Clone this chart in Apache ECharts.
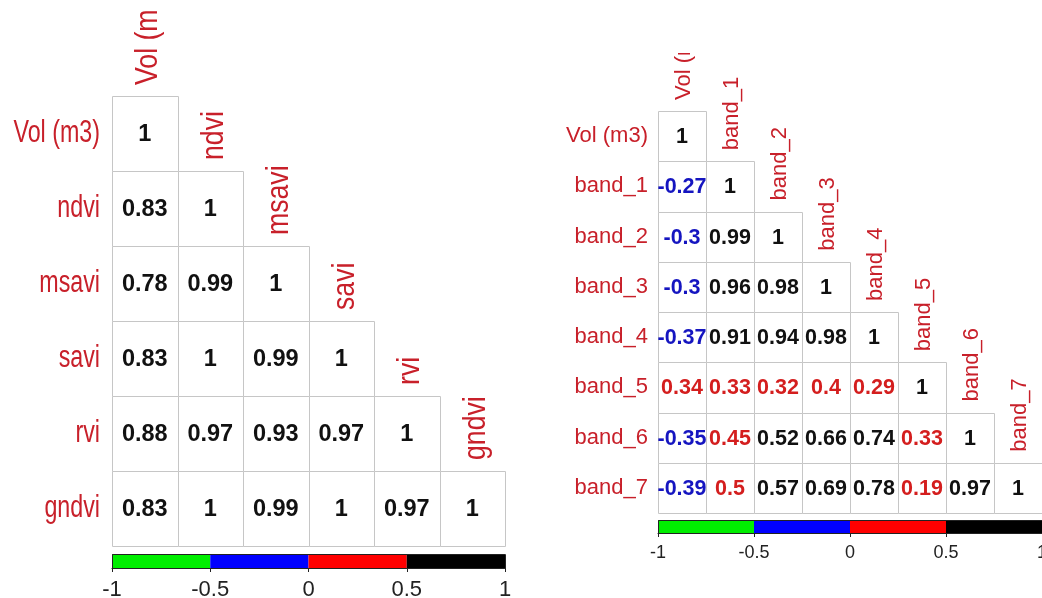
<!DOCTYPE html>
<html>
<head>
<meta charset="utf-8">
<script src="https://cdn.jsdelivr.net/npm/echarts@6/dist/echarts.min.js"></script>
<style>
html,body{margin:0;padding:0;background:#fff;}
#chart{width:1042px;height:598px;}
</style>
</head>
<body>
<div id="chart"></div>
<script>
// ---------- data ----------
const leftLabels = ['Vol (m3)', 'ndvi', 'msavi', 'savi', 'rvi', 'gndvi'];
const leftVol   = [1];
const leftNdvi  = [0.83, 1];
const leftMsavi = [0.78, 0.99, 1];
const leftSavi  = [0.83, 1, 0.99, 1];
const leftRvi   = [0.88, 0.97, 0.93, 0.97, 1];
const leftGndvi = [0.83, 1, 0.99, 1, 0.97, 1];
const leftValues = [leftVol, leftNdvi, leftMsavi, leftSavi, leftRvi, leftGndvi];

const rightLabels = ['Vol (m3)', 'band_1', 'band_2', 'band_3', 'band_4', 'band_5', 'band_6', 'band_7'];
const rightVol = [1];
const band1 = [-0.27, 1];
const band2 = [-0.3, 0.99, 1];
const band3 = [-0.3, 0.96, 0.98, 1];
const band4 = [-0.37, 0.91, 0.94, 0.98, 1];
const band5 = [0.34, 0.33, 0.32, 0.4, 0.29, 1];
const band6 = [-0.35, 0.45, 0.52, 0.66, 0.74, 0.33, 1];
const band7 = [-0.39, 0.5, 0.57, 0.69, 0.78, 0.19, 0.97, 1];
const rightValues = [rightVol, band1, band2, band3, band4, band5, band6, band7];

const barBreaks = [-1, -0.5, 0, 0.5, 1];
const barColors = ['#00ee00', '#0000ff', '#ff0000', '#000000'];

// ---------- styles ----------
const FONT = 'Liberation Sans, Arial, sans-serif';
const LABEL_RED = '#c8202a';
const VAL_BLUE = '#1515c0';
const VAL_RED = '#d41e1e';
const VAL_BLACK = '#111111';
const CELL_BORDER = '#c6c6c6';

function valueColor(v) {
  if (v <= -0.5) return '#00aa00';
  if (v <= 0) return VAL_BLUE;
  if (v <= 0.5) return VAL_RED;
  return VAL_BLACK;
}

function cellData(values) {
  const out = [];
  values.forEach((row, r) => row.forEach((v, c) => out.push([c, r, v])));
  return out;
}

function cellSeries(xi, values, fontSize) {
  return {
    type: 'custom', xAxisIndex: xi, yAxisIndex: xi, clip: false,
    encode: {x: 0, y: 1},
    data: cellData(values),
    renderItem: function (params, api) {
      const c = api.value(0), r = api.value(1), v = api.value(2);
      const a = api.coord([c, r]), b = api.coord([c + 1, r + 1]);
      const x0 = Math.round(a[0]) + 0.5, y0 = Math.round(a[1]) + 0.5;
      const x1 = Math.round(b[0]) + 0.5, y1 = Math.round(b[1]) + 0.5;
      return {
        type: 'group',
        children: [
          {type: 'rect', shape: {x: x0, y: y0, width: x1 - x0, height: y1 - y0},
           style: {fill: '#fff', stroke: CELL_BORDER, lineWidth: 1}},
          {type: 'text', x: (a[0] + b[0]) / 2, y: (a[1] + b[1]) / 2 + 1,
           style: {text: String(v), fill: valueColor(v), fontSize: fontSize, fontWeight: 'bold',
                   fontFamily: FONT, align: 'center', verticalAlign: 'middle'}}
        ]
      };
    }
  };
}

function rowLabelSeries(xi, labels, fontSize, scaleX, gap) {
  return {
    type: 'custom', xAxisIndex: xi, yAxisIndex: xi, clip: false,
    encode: {x: 0, y: 1},
    data: labels.map((n, i) => [0, i + 0.5]),
    renderItem: function (params, api) {
      const p = api.coord([api.value(0), api.value(1)]);
      return {
        type: 'text', x: p[0] - gap, y: p[1], scaleX: scaleX, scaleY: 1,
        style: {text: labels[params.dataIndex], fill: LABEL_RED, fontSize: fontSize,
                fontFamily: FONT, align: 'right', verticalAlign: 'middle'}
      };
    }
  };
}

function colLabelSeries(xi, labels, fontSize, scaleAlong, gap, dx) {
  return {
    type: 'custom', xAxisIndex: xi, yAxisIndex: xi, clip: true,
    encode: {x: 0, y: 1},
    data: labels.map((n, i) => [i + 0.5, i]),
    renderItem: function (params, api) {
      const p = api.coord([api.value(0), api.value(1)]);
      return {
        type: 'text', x: p[0] + dx, y: p[1] - gap, rotation: Math.PI / 2,
        scaleX: scaleAlong, scaleY: 1,
        style: {text: labels[params.dataIndex], fill: LABEL_RED, fontSize: fontSize,
                fontFamily: FONT, align: 'left', verticalAlign: 'middle'}
      };
    }
  };
}

function colorBarSeries(xi) {
  const segs = barColors.map((col, i) => [barBreaks[i], barBreaks[i + 1], i]);
  return [{
    type: 'custom', xAxisIndex: xi, yAxisIndex: xi, clip: false,
    encode: {x: [0, 1]},
    data: segs,
    renderItem: function (params, api) {
      const a = api.coord([api.value(0), 1]), b = api.coord([api.value(1), 0]);
      return {type: 'rect', shape: {x: a[0], y: a[1], width: b[0] - a[0], height: b[1] - a[1]},
              style: {fill: barColors[api.value(2)]}};
    }
  }, {
    type: 'custom', xAxisIndex: xi, yAxisIndex: xi, clip: false, z: 5,
    encode: {x: [0, 1]},
    data: [[barBreaks[0], barBreaks[barBreaks.length - 1]]],
    renderItem: function (params, api) {
      const a = api.coord([api.value(0), 1]), b = api.coord([api.value(1), 0]);
      return {type: 'rect', shape: {x: Math.round(a[0]) + 0.5, y: Math.round(a[1]) + 0.5,
              width: Math.round(b[0] - a[0]), height: Math.round(b[1] - a[1])},
              style: {fill: 'none', stroke: '#222', lineWidth: 1}};
    }
  }];
}

// ---------- layout ----------
const L = {left: 112, width: 393, cellH: 75, firstTop: 96, clipTop: 10};
const R = {left: 658, width: 384, cellH: 50.25, firstTop: 111, clipTop: 53};
const nL = leftLabels.length, nR = rightLabels.length;

const grids = [
  {left: L.left, width: L.width, top: L.clipTop, height: L.firstTop - L.clipTop + nL * L.cellH},
  {left: L.left, width: L.width, top: 554, height: 14},
  {left: R.left, width: R.width, top: R.clipTop, height: R.firstTop - R.clipTop + nR * R.cellH},
  {left: R.left, width: R.width, top: 520, height: 13}
];
grids.forEach(g => { g.containLabel = false; g.show = false; g.outerBoundsMode = 'none'; });

function hiddenValAxis(min, max, inverse) {
  return {type: 'value', min: min, max: max, inverse: !!inverse, show: false,
          splitLine: {show: false}};
}
function barXAxis(gi, fs, margin) {
  return {type: 'value', gridIndex: gi, min: -1, max: 1, interval: 0.5, position: 'bottom',
          axisLine: {show: true, onZero: false, lineStyle: {color: '#222', width: 1}},
          axisTick: {show: true, length: 4, inside: false, lineStyle: {color: '#222'}},
          splitLine: {show: false},
          axisLabel: {show: true, fontSize: fs, fontFamily: FONT, color: '#222', margin: margin,
                      showMinLabel: true, showMaxLabel: true, hideOverlap: false,
                      formatter: v => String(v)}};
}

const xAxes = [
  Object.assign(hiddenValAxis(0, nL), {gridIndex: 0}),
  barXAxis(1, 22, 11),
  Object.assign(hiddenValAxis(0, nR), {gridIndex: 2}),
  barXAxis(3, 18, 11)
];
const yAxes = [
  Object.assign(hiddenValAxis(-(L.firstTop - L.clipTop) / L.cellH, nL, true), {gridIndex: 0}),
  Object.assign(hiddenValAxis(0, 1), {gridIndex: 1}),
  Object.assign(hiddenValAxis(-(R.firstTop - R.clipTop) / R.cellH, nR, true), {gridIndex: 2}),
  Object.assign(hiddenValAxis(0, 1), {gridIndex: 3})
];

const series = [].concat(
  [cellSeries(0, leftValues, 23.5), rowLabelSeries(0, leftLabels, 31, 0.75, 12),
   colLabelSeries(0, leftLabels, 31, 0.86, 11, 4)],
  colorBarSeries(1),
  [cellSeries(2, rightValues, 21.5), rowLabelSeries(2, rightLabels, 22, 1, 10),
   colLabelSeries(2, rightLabels, 22, 1, 11, 2)],
  colorBarSeries(3)
);

const chart = echarts.init(document.getElementById('chart'), null, {renderer: 'canvas'});
chart.setOption({
  animation: false,
  backgroundColor: '#fff',
  grid: grids,
  xAxis: xAxes,
  yAxis: yAxes,
  series: series
});
</script>
</body>
</html>
